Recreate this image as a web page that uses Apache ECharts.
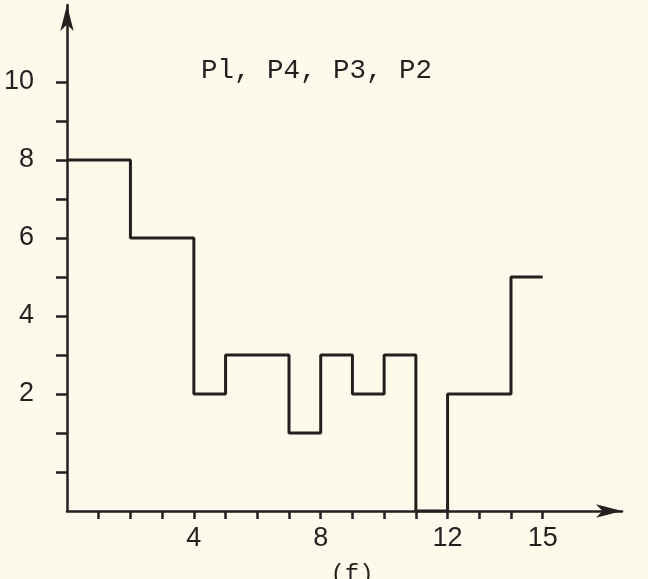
<!DOCTYPE html>
<html>
<head>
<meta charset="utf-8">
<script src="https://cdn.jsdelivr.net/npm/echarts@6/dist/echarts.min.js"></script>
<style>
  html, body { margin: 0; padding: 0; background: #fcfaea; }
  #chart { width: 648px; height: 579px; }
</style>
</head>
<body>
<div id="chart"></div>
<script>
// Step edges along the frequency axis and the level held on each interval
const stepEdges = [0, 2, 4, 5, 7, 8, 9, 10, 11, 12, 14, 15];
const stepLevels = [8, 6, 2, 3, 1, 3, 2, 3, -1, 2, 5];

// Tick positions and labelled values
const xTicks = [1, 2, 3, 4, 5, 6, 7, 8, 9, 10, 11, 12, 13, 14, 15];
const xLabels = [4, 8, 12, 15];
const yTicks = [0, 1, 2, 3, 4, 5, 6, 7, 8, 9, 10];
const yLabels = [2, 4, 6, 8, 10];

const captionText = 'Pl, P4, P3, P2';
const axisName = '(f)';

const ink = '#261f1f';

const stepData = stepEdges.map((x, i) => [x, stepLevels[Math.min(i, stepLevels.length - 1)]]);

const chart = echarts.init(document.getElementById('chart'), null, { renderer: 'canvas' });

chart.setOption({
  backgroundColor: '#fcfaea',
  animation: false,
  grid: { left: 67, right: 26, top: 5, bottom: 68 },
  xAxis: {
    type: 'value',
    min: 0,
    max: 17.5,
    splitLine: { show: false },
    axisLine: {
      onZero: false,
      lineStyle: { color: ink, width: 2.5 },
      symbol: ['none', 'arrow'],
      symbolSize: [10, 26]
    },
    axisTick: {
      customValues: xTicks,
      length: 8,
      lineStyle: { color: ink, width: 2.5 }
    },
    axisLabel: {
      customValues: xLabels,
      margin: 14,
      color: ink,
      fontFamily: 'Liberation Sans',
      fontSize: 27
    }
  },
  yAxis: {
    type: 'value',
    min: -1,
    max: 11.97,
    splitLine: { show: false },
    axisLine: {
      onZero: false,
      lineStyle: { color: ink, width: 2.5 },
      symbol: ['none', 'arrow'],
      symbolSize: [10, 26]
    },
    axisTick: {
      customValues: yTicks,
      length: 11,
      lineStyle: { color: ink, width: 2.5 }
    },
    axisLabel: {
      customValues: yLabels,
      margin: 33,
      color: ink,
      fontFamily: 'Liberation Sans',
      fontSize: 27
    }
  },
  series: [{
    type: 'line',
    step: 'end',
    data: stepData,
    showSymbol: false,
    lineStyle: { color: ink, width: 3 },
    z: 3
  }],
  graphic: [
    {
      type: 'text',
      style: {
        x: 201, y: 71,
        text: captionText,
        font: '27.5px "Liberation Mono"',
        fill: ink,
        textAlign: 'left',
        textVerticalAlign: 'middle'
      }
    },
    {
      type: 'text',
      style: {
        x: 352, y: 575,
        text: axisName,
        font: '24px "Liberation Mono"',
        fill: ink,
        textAlign: 'center',
        textVerticalAlign: 'middle'
      }
    }
  ]
});
</script>
</body>
</html>
